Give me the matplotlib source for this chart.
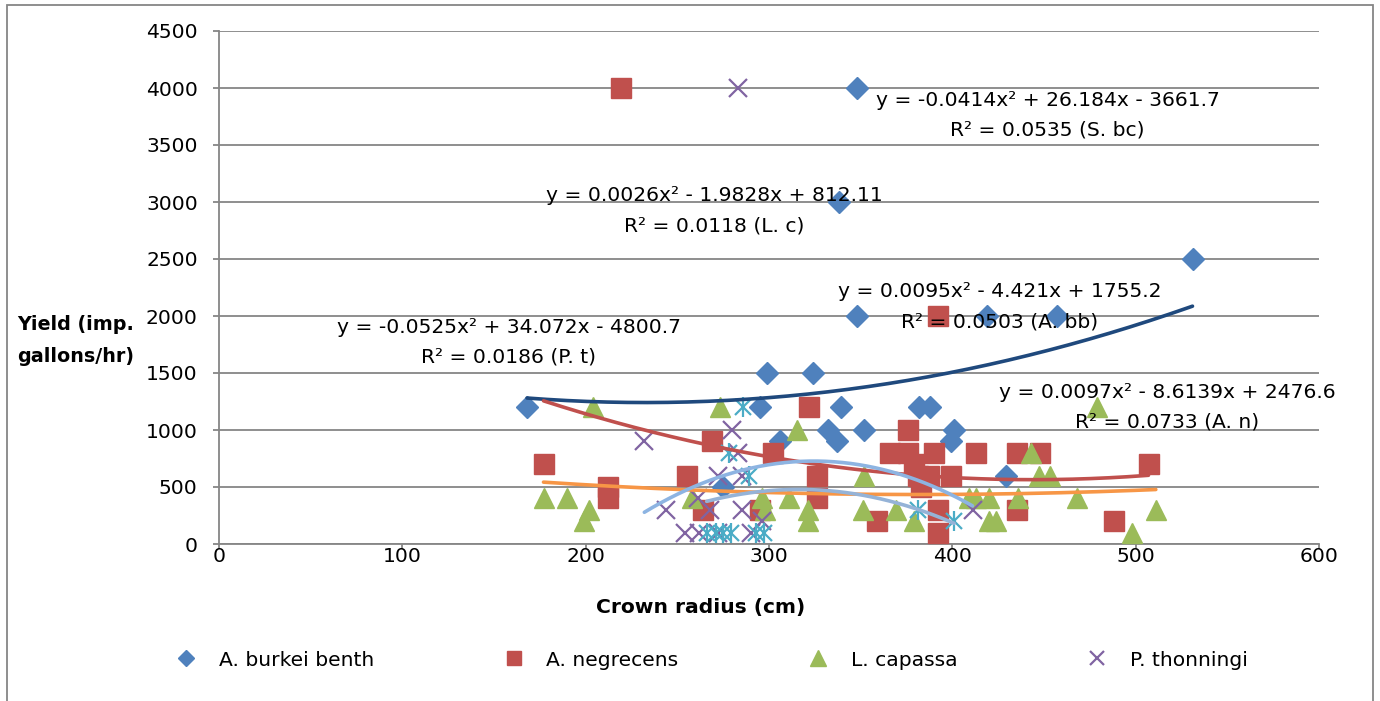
import numpy as np
import matplotlib
matplotlib.use('Agg')
import matplotlib.pyplot as plt
from matplotlib import patches

plt.rcParams['font.family'] = ['DejaVu Sans']

# data
abb_x = [168, 348, 338, 531, 348, 419, 457, 299, 324, 295, 339, 382, 388, 332, 352, 401, 306, 337, 399, 275, 429]
abb_y = [1200, 4000, 3000, 2500, 2000, 2000, 2000, 1500, 1500, 1200, 1200, 1200, 1200, 1000, 1000, 1000, 900, 900, 900, 500, 600]

an_x = [219, 392, 177, 212, 212, 255, 264, 269, 295, 302, 322, 326, 326, 359, 366, 376, 376, 390,
        379, 381, 387, 399, 383, 392, 392, 413, 435, 448, 435, 488, 507]
an_y = [4000, 2000, 700, 500, 400, 600, 300, 900, 300, 800, 1200, 600, 400, 200, 800, 1000, 800, 800,
        700, 600, 600, 600, 500, 300, 100, 800, 800, 800, 300, 200, 700]

lc_x = [177, 190, 202, 199, 204, 258, 273, 296, 298, 311, 315, 321, 321, 352, 351, 369, 379, 409,
        413, 420, 420, 424, 443, 447, 453, 436, 468, 479, 498, 511]
lc_y = [400, 400, 300, 200, 1200, 400, 1200, 400, 300, 400, 1000, 300, 200, 600, 300, 300, 200, 400,
        400, 400, 200, 200, 800, 600, 600, 400, 400, 1200, 100, 300]

pt_x = [283, 232, 280, 283, 272, 285, 244, 261, 268, 285, 296, 254, 262, 272, 290, 411]
pt_y = [4000, 900, 1000, 800, 600, 600, 300, 400, 300, 300, 200, 100, 100, 100, 100, 300]

sbc_x = [286, 278, 289, 266, 271, 275, 279, 293, 297, 381, 401]
sbc_y = [1200, 800, 600, 100, 100, 100, 100, 100, 100, 300, 200]

# quadratic trendline coefficients (as printed on the chart)
abb_fit = [0.0095, -4.421, 1755.2]
an_fit = [0.0097, -8.6139, 2476.6]
lc_fit = [0.0026, -1.9828, 812.11]
pt_fit = [-0.0525, 34.072, -4800.7]
sbc_fit = [-0.0414, 26.184, -3661.7]

eq_labels = {
    'sbc': ('y = -0.0414x\u00b2 + 26.184x - 3661.7', 'R\u00b2 = 0.0535 (S. bc)'),
    'lc': ('y = 0.0026x\u00b2 - 1.9828x + 812.11', 'R\u00b2 = 0.0118 (L. c)'),
    'abb': ('y = 0.0095x\u00b2 - 4.421x + 1755.2', 'R\u00b2 = 0.0503 (A. bb)'),
    'pt': ('y = -0.0525x\u00b2 + 34.072x - 4800.7', 'R\u00b2 = 0.0186 (P. t)'),
    'an': ('y = 0.0097x\u00b2 - 8.6139x + 2476.6', 'R\u00b2 = 0.0733 (A. n)'),
}
# label anchor positions (data coords)
eq_pos = {'sbc': (452, 3760), 'lc': (270, 2920), 'abb': (426, 2080), 'pt': (158, 1770), 'an': (517, 1200)}

legend_names = ['A. burkei benth', 'A. negrecens', 'L. capassa', 'P. thonningi']

grey = '#868686'
fs = 14.6

fig = plt.figure(figsize=(13.8, 7.01), dpi=100)
ax = fig.add_axes([219/1380, 1-544/701, 1100/1380, 513/701])

# outer chart frame
fig.patches.append(patches.Rectangle((7/1380, -0.05), 1366/1380, 1.05 - 5/701,
                                     transform=fig.transFigure, fill=False,
                                     edgecolor=grey, lw=1.3))

h1, = ax.plot(abb_x, abb_y, ls='none', marker='D', ms=11.5, color='#4F81BD', zorder=3)
h2, = ax.plot(an_x, an_y, ls='none', marker='s', ms=14, color='#C0504D', zorder=3)
h3, = ax.plot(lc_x, lc_y, ls='none', marker='^', ms=15, color='#9BBB59', zorder=3)
h4, = ax.plot(pt_x, pt_y, ls='none', marker='x', ms=13, mew=1.6, color='#8064A2', zorder=3)
ax.plot(sbc_x, sbc_y, ls='none', marker='x', ms=12, mew=1.6, color='#4BACC6', zorder=3)
ax.plot(sbc_x, sbc_y, ls='none', marker='|', ms=15, mew=1.6, color='#4BACC6', zorder=3)

fits = [(abb_x, abb_fit, '#1F497D'), (an_x, an_fit, '#C0504D'), (lc_x, lc_fit, '#F79646'),
        (pt_x, pt_fit, '#8DB4E2'), (sbc_x, sbc_fit, '#95B3D7')]
for xs, c, col in fits:
    xx = np.linspace(min(xs), max(xs), 200)
    ax.plot(xx, np.polyval(c, xx), color=col, lw=2.6, zorder=4, solid_capstyle='round')

for k, (l1, l2) in eq_labels.items():
    x, y = eq_pos[k]
    ax.text(x, y, l1 + '\n' + l2, ha='center', va='center', fontsize=fs,
            linespacing=1.75, zorder=5)

ax.set_xlim(0, 600)
ax.set_ylim(0, 4500)
ax.set_xticks(np.arange(0, 601, 100))
ax.set_yticks(np.arange(0, 4501, 500))
ax.yaxis.grid(True, color=grey, lw=1.3)
ax.set_axisbelow(True)
for s in ['top', 'right']:
    ax.spines[s].set_visible(False)
for s in ['left', 'bottom']:
    ax.spines[s].set_color(grey)
    ax.spines[s].set_linewidth(1.3)
ax.tick_params(axis='y', length=4.3, width=1.3, color=grey, pad=11, labelsize=fs)
ax.tick_params(axis='x', length=3.6, width=1.3, color=grey, pad=-1.5, labelsize=fs)

fig.text(17/1380, 1-325/701, 'Yield (imp.', fontsize=13.8, fontweight='bold', ha='left', va='center')
fig.text(17/1380, 1-357/701, 'gallons/hr)', fontsize=13.8, fontweight='bold', ha='left', va='center')
fig.text(701/1380, 1-607/701, 'Crown radius (cm)', fontsize=14.6, fontweight='bold', ha='center', va='center')

fig.legend([h1, h2, h3, h4], legend_names, loc='center', bbox_to_anchor=(0.515, 1-660/701),
           ncol=4, frameon=False, fontsize=fs, markerscale=0.75, handlelength=1.2,
           handletextpad=1.0, columnspacing=6.3)

fig.savefig('out.png', dpi=100)
